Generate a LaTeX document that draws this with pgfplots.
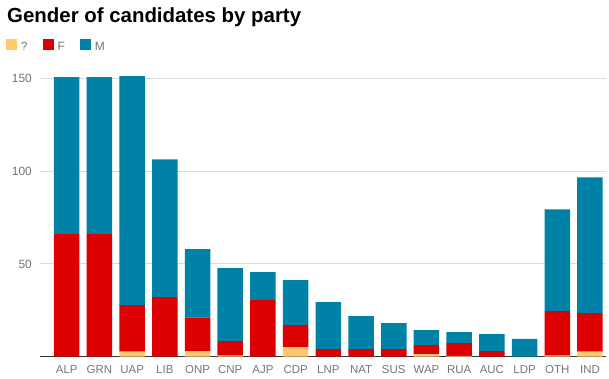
\documentclass[border=0pt]{standalone}
\usepackage{fontspec}
\setmainfont{Liberation Sans}
\usepackage{pgfplots}
\usepackage{pgfplotstable}
\pgfplotsset{compat=1.18}
\definecolor{cQ}{RGB}{255,202,110}
\definecolor{cF}{RGB}{220,0,0}
\definecolor{cM}{RGB}{0,130,166}
\definecolor{tickgray}{RGB}{117,117,117}
\definecolor{gridgray}{RGB}{218,218,218}

\pgfplotstableread{
x q f m
0 0 66 84.6
1 0 66 84.6
2 2.7 25.1 123.3
3 0 32.1 74.2
4 3 18 37
5 0.6 7.8 39.3
6 0 30.6 14.9
7 5.2 11.8 24.2
8 0 4.1 25.3
9 0 4.1 17.8
10 0 4.1 14
11 1.4 4.9 8
12 0.5 6.8 6
13 0 3 9.2
14 0 0 9.6
15 0.6 24 54.8
16 2.8 20.7 73.1
}\data

\begin{document}
\begin{tikzpicture}[x=1bp,y=1bp]
\useasboundingbox (0,0) rectangle (609,378);
\node[anchor=base west, inner sep=0pt, font=\fontsize{20.5}{24}\selectfont\bfseries] at (7,355.5) {Gender of candidates by party};
\begin{axis}[
  at={(40bp,21.3bp)}, anchor=south west,
  scale only axis, width=566bp, height=287.7bp,
  ybar stacked, bar width=25.5bp,
  xmin=-0.817, xmax=16.49, ymin=0, ymax=155,
  xtick={0,...,16},
  xticklabels={ALP,GRN,UAP,LIB,ONP,CNP,AJP,CDP,LNP,NAT,SUS,WAP,RUA,AUC,LDP,OTH,IND},
  ytick={50,100,150},
  ymajorgrids, grid style={draw=gridgray, line width=0.9pt},
  axis x line*=bottom, axis y line*=left,
  y axis line style={draw=none},
  x axis line style={draw=black!80, line width=1.2pt},
  major tick length=0pt,
  tick style={draw=none},
  /pgf/number format/assume math mode=true,
  yticklabel style={font=\fontsize{12}{14}\selectfont, text=tickgray, inner sep=0pt, xshift=-8bp},
  xticklabel style={font=\fontsize{11.5}{14}\selectfont, text=tickgray, inner sep=0pt, yshift=-8.5bp},
  legend columns=3,
  legend cell align=left,
  legend style={at={(axis description cs:-0.0601,1.1043)}, anchor=north west,
    draw=none, fill=none, inner sep=0pt, outer sep=0pt,
    font=\fontsize{12}{14}\selectfont, text=tickgray,
    nodes={inner sep=0pt},
    /tikz/every odd column/.append style={column sep=3.5bp},
    /tikz/every even column/.append style={column sep=15bp}},
  sq/.style={legend image code/.code={\fill[##1] (0bp,-3.5bp) rectangle (11.5bp,8bp);}},
]
\addplot[fill=cQ, draw=none, sq] table[x=x,y=q]{\data};
\addplot[fill=cF, draw=none, sq] table[x=x,y=f]{\data};
\addplot[fill=cM, draw=none, sq] table[x=x,y=m]{\data};
\legend{?,F,M}
\end{axis}
\end{tikzpicture}
\end{document}
